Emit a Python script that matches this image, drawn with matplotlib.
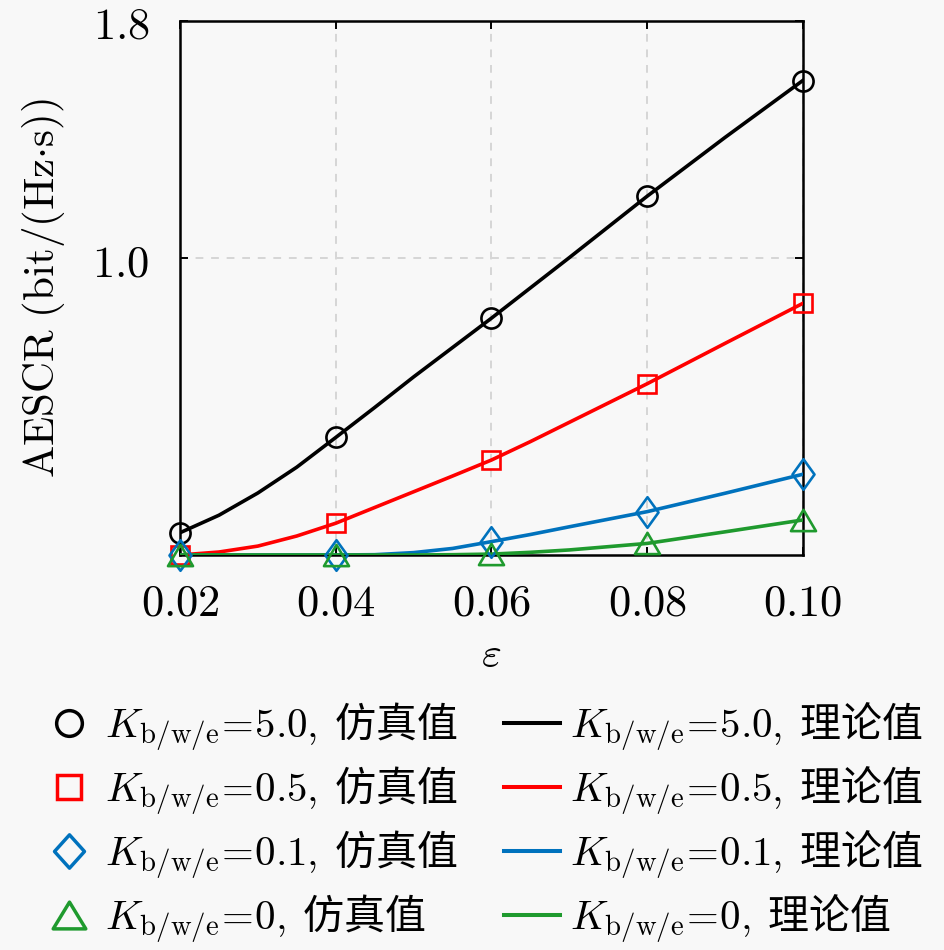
import matplotlib
matplotlib.use("Agg")
import matplotlib.pyplot as plt
from matplotlib.lines import Line2D
from matplotlib.path import Path

plt.rcParams['font.family'] = ['Noto Sans CJK SC', 'DejaVu Sans']
plt.rcParams['mathtext.fontset'] = 'cm'

# ---- data ----
eps_sim = [0.02, 0.04, 0.06, 0.08, 0.10]
sim_k50 = [0.075, 0.396, 0.798, 1.209, 1.599]
sim_k05 = [0.0, 0.107, 0.320, 0.577, 0.848]
sim_k01 = [0.0, 0.0, 0.045, 0.146, 0.272]
sim_k0 = [0.0, 0.0, 0.003, 0.039, 0.118]

eps_th = [0.02, 0.025, 0.03, 0.035, 0.04, 0.045, 0.05, 0.055, 0.06, 0.065, 0.07, 0.08, 0.09, 0.10]
th_k50 = [0.075, 0.134, 0.209, 0.296, 0.396, 0.497, 0.600, 0.699, 0.798, 0.900, 1.002, 1.209, 1.407, 1.599]
th_k05 = [0.0, 0.010, 0.030, 0.064, 0.107, 0.160, 0.213, 0.266, 0.320, 0.382, 0.447, 0.577, 0.713, 0.848]
th_k01 = [0.0, 0.0, 0.0, 0.0, 0.0, 0.001, 0.008, 0.022, 0.045, 0.069, 0.095, 0.146, 0.208, 0.272]
th_k0 = [0.0, 0.0, 0.0, 0.0, 0.0, 0.0, 0.0, 0.001, 0.003, 0.009, 0.017, 0.039, 0.078, 0.118]

k_labels = ['5.0', '0.5', '0.1', '0']
x_ticks = [0.02, 0.04, 0.06, 0.08, 0.10]
x_ticklabels = ['0.02', '0.04', '0.06', '0.08', '0.10']
y_ticks = [1.0, 1.8]
y_ticklabels = ['1.0', '1.8']

colors = ['black', '#ff0000', '#0072BD', '#1f9a2e']

diamond = Path([(0, 1), (0.72, 0), (0, -1), (-0.72, 0), (0, 1)],
               [Path.MOVETO, Path.LINETO, Path.LINETO, Path.LINETO, Path.CLOSEPOLY])
diamond_leg = Path([(0, 1), (0.9, 0), (0, -1), (-0.9, 0), (0, 1)],
                   [Path.MOVETO, Path.LINETO, Path.LINETO, Path.LINETO, Path.CLOSEPOLY])
triangle = Path([(0, 0.85), (1, -0.85), (-1, -0.85), (0, 0.85)],
                [Path.MOVETO, Path.LINETO, Path.LINETO, Path.CLOSEPOLY])
triangle_leg = Path([(0, 0.82), (1, -0.82), (-1, -0.82), (0, 0.82)],
                    [Path.MOVETO, Path.LINETO, Path.LINETO, Path.CLOSEPOLY])

markers = ['o', 's', diamond, triangle]
leg_markers = ['o', 's', diamond_leg, triangle_leg]
msizes = [14.5, 13, 22, 18]
leg_msizes = [18.5, 17, 24, 23.5]

bg = '#f8f8f8'
fig = plt.figure(figsize=(9.45, 9.5), dpi=100, facecolor=bg)
ax = fig.add_axes([0.1905, 0.4158, 0.659, 0.5622], facecolor=bg)

sims = [sim_k50, sim_k05, sim_k01, sim_k0]
ths = [th_k50, th_k05, th_k01, th_k0]

for i in range(4):
    ax.plot(eps_th, ths[i], color=colors[i], lw=2.6, zorder=3,
            solid_joinstyle='round')
for i in range(4):
    ax.plot(eps_sim, sims[i], ls='none', marker=markers[i], ms=msizes[i],
            mfc='none', mec=colors[i], mew=1.9, zorder=4, clip_on=False)

ax.set_xlim(0.02, 0.10)
ax.set_ylim(0, 1.8)
ax.set_xticks(x_ticks)
ax.set_xticklabels(['$' + t + '$' for t in x_ticklabels])
ax.set_yticks(y_ticks)
ax.set_yticklabels(['$' + t + '$' for t in y_ticklabels])
ax.tick_params(direction='in', length=6, width=1.4, labelsize=32,
               top=True, right=True)
ax.tick_params(axis='x', pad=18)
ax.tick_params(axis='y', pad=22)
ax.grid(True, ls=(0, (4, 4)), color='#d6d6d6', lw=1.4)
for s in ax.spines.values():
    s.set_linewidth(1.8)

ax.set_xlabel(r'$\varepsilon$', fontsize=31, labelpad=5)
ax.set_ylabel(r'$\mathrm{AESCR\ (bit/(Hz{\cdot}s))}$', fontsize=31, labelpad=18)

h1, l1, h2, l2 = [], [], [], []
for i in range(4):
    h1.append(Line2D([], [], ls='none', marker=leg_markers[i], ms=leg_msizes[i],
                     mfc='none', mec=colors[i], mew=2.5))
    l1.append(r'$K_{\mathrm{b/w/e}}\!=\!\mathrm{' + k_labels[i] + ',}$ 仿真值')
    h2.append(Line2D([], [], color=colors[i], lw=2.9))
    l2.append(r'$K_{\mathrm{b/w/e}}\!=\!\mathrm{' + k_labels[i] + ',}$ 理论值')

common = dict(loc='upper left', frameon=False, fontsize=29.5, handlelength=1.36,
              borderpad=0, borderaxespad=0, labelspacing=0.27)
leg1 = fig.legend(h1, l1, bbox_to_anchor=(0.0434, 0.263), handletextpad=0.2, **common)
leg2 = fig.legend(h2, l2, bbox_to_anchor=(0.5333, 0.263), handletextpad=0.26, **common)

fig.savefig('out.png', dpi=100, facecolor=bg)
